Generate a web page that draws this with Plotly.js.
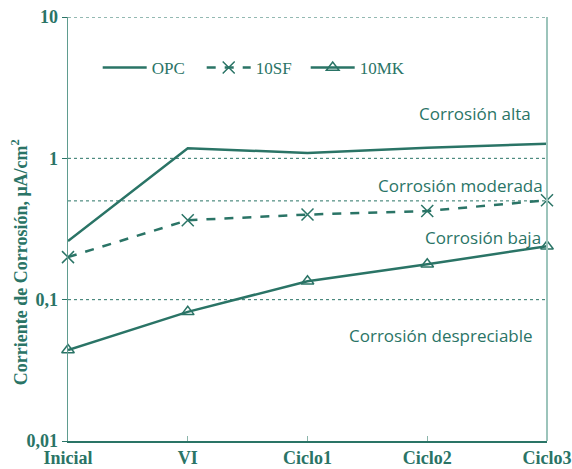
<!DOCTYPE html>
<html><head><meta charset="utf-8">
<script src="https://cdn.plot.ly/plotly-3.0.1.min.js"></script>
<style>body{margin:0;padding:0;background:#fff}#chart{width:572px;height:469px}</style>
</head><body><div id="chart"></div>
<script>
const categories = ["Inicial", "VI", "Ciclo1", "Ciclo2", "Ciclo3"];
const opc  = [0.26, 1.18, 1.09, 1.19, 1.27];
const sf10 = [0.20, 0.365, 0.40, 0.424, 0.505];
const mk10 = [0.044, 0.082, 0.135, 0.178, 0.239];
const yTickVals = [0.01, 0.1, 1, 10];
const yTickText = ["0,01", "0,1", "1", "10"];
const gridVals = [10, 1, 0.5, 0.1];
const zoneLabels = ["Corrosión alta", "Corrosión moderada", "Corrosión baja", "Corrosión despreciable"];
const zoneY = [2.08, 0.64, 0.277, 0.056];

const C = "#2a7466";
const serif = "Liberation Serif, Times New Roman, serif";
const sans = "Open Sans, Noto Sans, sans-serif";

const traces = [
  {x: categories, y: opc, name: "OPC", mode: "lines", line: {color: C, width: 2.5}, cliponaxis: false},
  {x: categories, y: sf10, name: "10SF", mode: "lines+markers", line: {color: C, width: 2.5, dash: "dash"}, cliponaxis: false,
   marker: {symbol: "x-thin-open", size: 12, color: C, line: {color: C, width: 1.5}}},
  {x: categories, y: mk10, name: "10MK", mode: "lines+markers", line: {color: C, width: 2.5}, cliponaxis: false,
   marker: {symbol: "triangle-up-open", size: 11, color: C, line: {color: C, width: 1.5}}}
];

const shapes = gridVals.map(v => ({type: "line", xref: "paper", x0: 0, x1: 1, yref: "y", y0: v, y1: v,
  line: {color: C, width: 1, dash: "dot"}, layer: "below"}));
shapes.push({type: "line", xref: "paper", x0: 1, x1: 1, yref: "paper", y0: 0, y1: 1,
  line: {color: "#9cc4bb", width: 2}});

const zoneX = [0.971, 0.996, 0.991, 0.975];
const annotations = zoneLabels.map((t, i) => ({text: t, xref: "paper", x: zoneX[i], xanchor: "right",
  yref: "y", y: Math.log10(zoneY[i]), yanchor: "middle", showarrow: false,
  font: {family: sans, size: 17, color: C}}));
annotations.push({text: "Corriente de Corrosión, μA/cm<sup>2</sup>", xref: "paper", x: -0.102, xanchor: "center",
  yref: "paper", y: 0.422, yanchor: "middle", textangle: -90, showarrow: false,
  font: {family: serif, size: 18, color: C, weight: "bold"}});

const layout = {
  width: 572, height: 469,
  margin: {l: 68, r: 25, t: 17, b: 28},
  paper_bgcolor: "#fff", plot_bgcolor: "#fff",
  showlegend: true,
  legend: {orientation: "h", x: 0.062, y: 0.88, xanchor: "left", yanchor: "middle", entrywidth: 45, itemwidth: 44,
    font: {family: serif, size: 17, color: C}, bgcolor: "rgba(0,0,0,0)"},
  xaxis: {type: "category", range: [0, 4], showgrid: false, zeroline: false,
    showline: true, linecolor: C, linewidth: 1.5, ticks: "inside", ticklen: 5, tickcolor: "#8bb5ab",
    tickfont: {family: serif, size: 18, color: C, weight: "bold"}},
  yaxis: {type: "log", range: [-2, 1], tickvals: yTickVals, ticktext: yTickText,
    showgrid: false, zeroline: false, showline: true, linecolor: "#5f9c8f", linewidth: 1.5,
    ticks: "outside", ticklen: 5, tickcolor: C,
    tickfont: {family: serif, size: 18, color: C, weight: "bold"}},
  shapes: shapes,
  annotations: annotations
};
Plotly.newPlot("chart", traces, layout, {displayModeBar: false, staticPlot: true});
</script></body></html>
